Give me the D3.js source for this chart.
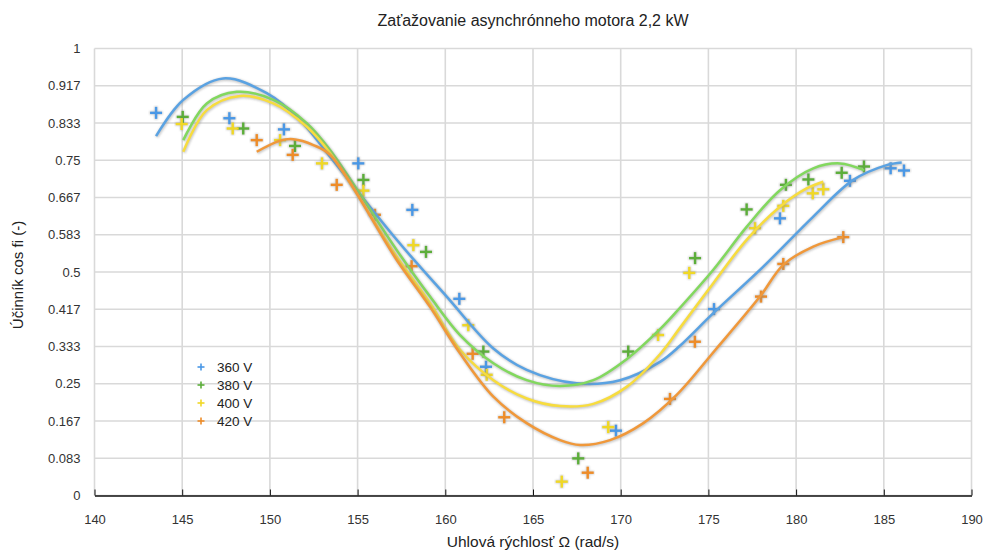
<!DOCTYPE html>
<html><head><meta charset="utf-8">
<script src="https://cdn.jsdelivr.net/npm/d3@7/dist/d3.min.js"></script>
<style>body{margin:0;background:#fff}svg{display:block;font-family:"Liberation Sans",Arial,sans-serif}</style>
</head><body><svg id="c" width="985" height="550"></svg>
<script>
const title = "Zaťažovanie asynchrónneho motora 2,2 kW";
const xLabel = "Uhlová rýchlosť Ω (rad/s)";
const yLabel = "Účinník cos fi (-)";
const seriesNames = ["360 V", "380 V", "400 V", "420 V"];
const xTicks = [140,145,150,155,160,165,170,175,180,185,190];
const yTickLabels = ["0","0.083","0.167","0.25","0.333","0.417","0.5","0.583","0.667","0.75","0.833","0.917","1"];

// measured points [omega, cos fi]
const pts360 = [[143.51,0.856],[147.69,0.844],[150.80,0.819],[155.04,0.743],[158.12,0.639],[160.80,0.440],[162.32,0.288],[169.73,0.145],[175.32,0.417],[179.08,0.620],[183.07,0.704],[185.39,0.732],[186.15,0.727]];
const pts380 = [[145.03,0.847],[148.48,0.821],[151.43,0.782],[155.33,0.706],[158.90,0.545],[162.17,0.322],[167.58,0.083],[170.43,0.322],[174.24,0.531],[177.18,0.640],[179.42,0.695],[180.70,0.707],[182.60,0.722],[183.87,0.736]];
const pts400 = [[144.97,0.831],[147.88,0.821],[150.58,0.795],[152.97,0.743],[155.33,0.682],[158.18,0.560],[161.31,0.381],[162.36,0.270],[166.64,0.031],[169.29,0.153],[172.13,0.359],[173.91,0.498],[177.66,0.598],[179.27,0.648],[180.95,0.676],[181.55,0.685]];
const pts420 = [[149.25,0.795],[151.30,0.762],[153.81,0.695],[155.99,0.628],[158.08,0.513],[161.56,0.317],[163.36,0.175],[168.12,0.051],[172.81,0.216],[174.23,0.344],[178.00,0.445],[179.27,0.518],[182.69,0.578]];

// trendlines
const trend360 = [[143.51,0.804],[145.06,0.885],[147.34,0.933],[149.82,0.900],[151.72,0.840],[153.43,0.758],[157.23,0.572],[160.08,0.445],[162.74,0.329],[164.64,0.281],[167.49,0.251],[169.96,0.258],[172.24,0.299],[173.38,0.335],[175.28,0.408],[178.13,0.512],[180.98,0.624],[183.26,0.706],[185.16,0.739],[186.02,0.745]];
const trend380 = [[145.06,0.795],[146.40,0.877],[148.11,0.903],[150.20,0.885],[152.10,0.833],[153.43,0.773],[157.23,0.549],[159.13,0.445],[160.84,0.359],[162.74,0.296],[164.64,0.258],[166.54,0.245],[168.44,0.258],[170.34,0.305],[172.24,0.372],[173.38,0.420],[175.28,0.505],[177.18,0.601],[179.08,0.683],[180.98,0.732],[182.50,0.743],[183.87,0.728]];
const trend400 = [[145.06,0.769],[146.40,0.862],[148.30,0.894],[150.20,0.877],[152.10,0.825],[153.43,0.766],[157.23,0.534],[159.13,0.430],[160.84,0.326],[162.74,0.258],[164.64,0.217],[166.54,0.200],[168.44,0.205],[170.34,0.243],[172.24,0.316],[173.38,0.375],[175.28,0.475],[177.18,0.572],[179.08,0.646],[180.60,0.687],[181.55,0.702]];
const trend420 = [[149.25,0.769],[150.58,0.794],[151.34,0.797],[152.48,0.784],[153.43,0.762],[157.23,0.527],[159.13,0.422],[160.84,0.318],[162.74,0.221],[164.64,0.162],[166.54,0.124],[167.68,0.113],[169.39,0.124],[171.29,0.162],[173.19,0.225],[175.38,0.325],[177.94,0.445],[179.27,0.516],[180.98,0.557],[182.69,0.578]];

const markerColors = ["#4a98e6","#5cae3a","#f0d826","#ee8c28"];
const lineColors = ["#5aa2e2","#82d85e","#f7dc3e","#f0983a"];
const allPts = [pts360, pts380, pts400, pts420];
const allTrend = [trend360, trend380, trend400, trend420];

const svg = d3.select("#c");
const L = 94.5, R = 971.5, T = 48.5, B = 495.5;
const x = d3.scaleLinear().domain([140,190]).range([L,R]);
const y = d3.scaleLinear().domain([0,1]).range([B,T]);
const yTickVals = yTickLabels.map((d,i)=>i/12);
const FONT = "Liberation Sans, Arial, sans-serif";

// grid
const g = svg.append("g");
g.selectAll(".vg").data(xTicks).join("line")
  .attr("x1",d=>x(d)).attr("x2",d=>x(d)).attr("y1",T).attr("y2",B)
  .attr("stroke","#d9d9d9").attr("stroke-width",1.6);
g.selectAll(".hg").data(yTickVals).join("line")
  .attr("x1",L).attr("x2",R).attr("y1",d=>y(d)).attr("y2",d=>y(d))
  .attr("stroke","#d9d9d9").attr("stroke-width",1.6);

// x axis
const xa = svg.append("g").attr("transform",`translate(0,${B})`)
  .call(d3.axisBottom(x).tickValues(xTicks).tickSizeInner(-6).tickSizeOuter(0).tickPadding(19));
xa.select(".domain").attr("stroke","#111").attr("stroke-width",1.3);
xa.selectAll(".tick line").attr("stroke","#111").attr("stroke-width",1);
xa.selectAll("text").attr("font-size",13).attr("fill","#333").attr("font-family",FONT);

// y axis labels
const ya = svg.append("g").attr("transform",`translate(${L},0)`)
  .call(d3.axisLeft(y).tickValues(yTickVals).tickFormat((d,i)=>yTickLabels[i]).tickSize(0).tickPadding(14));
ya.select(".domain").remove();
ya.selectAll("text").attr("font-size",13).attr("fill","#333").attr("font-family",FONT);

// defs: blur for shadow
const defs = svg.append("defs");
defs.append("filter").attr("id","sh").attr("x","-5%").attr("y","-5%").attr("width","110%").attr("height","110%")
  .append("feGaussianBlur").attr("stdDeviation",1.2);

const line = d3.line().x(d=>x(d[0])).y(d=>y(d[1])).curve(d3.curveCatmullRom.alpha(0.5));
const plot = svg.append("g");

function plus(sel, s, col, w){
  sel.append("line").attr("x1",-s).attr("x2",s).attr("y1",0).attr("y2",0).attr("stroke",col).attr("stroke-width",w);
  sel.append("line").attr("y1",-s).attr("y2",s).attr("x1",0).attr("x2",0).attr("stroke",col).attr("stroke-width",w);
}
// markers
allPts.forEach((pts,i)=>{
  pts.forEach(p=>{
    const m = plot.append("g").attr("transform",`translate(${x(p[0])},${y(p[1])})`);
    const sh = m.append("g").attr("filter","url(#sh)").attr("opacity",0.35);
    plus(sh,6.5,"#555",3);
    plus(m,6,markerColors[i],2.4);
  });
});

// trendlines
allTrend.forEach((t,i)=>{
  plot.append("path").datum(t).attr("d",line).attr("fill","none")
    .attr("stroke","#888").attr("stroke-width",3.6).attr("opacity",0.45).attr("filter","url(#sh)")
    .attr("transform","translate(0.6,0.8)");
  plot.append("path").datum(t).attr("d",line).attr("fill","none")
    .attr("stroke",lineColors[i]).attr("stroke-width",2.5);
});

// legend
const lg = svg.append("g");
seriesNames.forEach((n,i)=>{
  const yy = 367 + i*18;
  const m = lg.append("g").attr("transform",`translate(201,${yy})`);
  plus(m,3.5,markerColors[i],1.6);
  lg.append("text").attr("x",217).attr("y",yy+5).attr("font-size",13.5).attr("fill","#222").attr("font-family",FONT).text(n);
});

// titles
svg.append("text").attr("x",533).attr("y",26).attr("text-anchor","middle").attr("font-size",16).attr("fill","#222").attr("font-family",FONT).text(title);
svg.append("text").attr("x",533).attr("y",547).attr("text-anchor","middle").attr("font-size",15.5).attr("fill","#222").attr("font-family",FONT).text(xLabel);
svg.append("text").attr("transform","translate(23,275) rotate(-90)").attr("text-anchor","middle").attr("font-size",15).attr("fill","#222").attr("font-family",FONT).text(yLabel);
</script></body></html>
